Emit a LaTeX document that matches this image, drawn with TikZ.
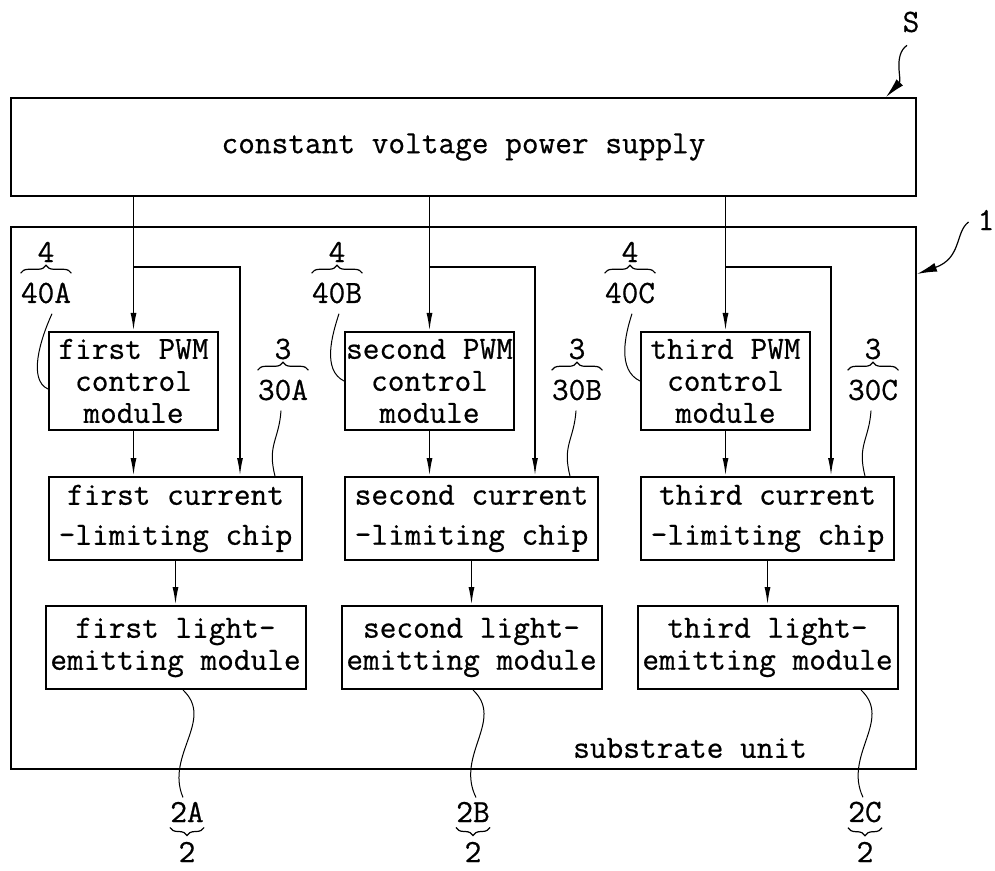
\documentclass[tikz,border=0pt]{standalone}
\usepackage{fontspec}
\setmonofont{Latin Modern Mono}[FakeBold=0.6]
\usetikzlibrary{arrows.meta,decorations.pathreplacing}

\def\unitpx{0.5pt}
% reference numeral with a brace under the upper text (tip up)
\newcommand{\refup}[5]{%
  \node[reftext] (#1) at (#2,#3) {#5};
  \draw[refbrace] ([yshift=9*\unitpx]#1.north west) -- ([yshift=9*\unitpx]#1.north east);
  \node[reftext] (#1top) at ([yshift=41*\unitpx]#1.center) {#4};
}
% reference numeral with a brace under the upper text (tip down)
\newcommand{\refdown}[5]{%
  \node[reftext] (#1) at (#2,#3) {#4};
  \draw[refbrace] ([yshift=-5*\unitpx]#1.south east) -- ([yshift=-5*\unitpx]#1.south west);
  \node[reftext] (#1low) at ([yshift=-40*\unitpx]#1.center) {#5};
}

\begin{document}
\begin{tikzpicture}[
		x=0.5pt, y=-0.5pt,
		font=\ttfamily\fontsize{16.2}{16}\selectfont,
		block/.style={draw, line width=1pt, align=center, inner sep=0pt},
		chipbox/.style={block, font=\ttfamily\fontsize{16.2}{20}\selectfont},
		reftext/.style={inner sep=0pt},
		refbrace/.style={decorate, decoration={brace, amplitude=4pt}, line width=0.6pt},
		flow/.style={-{Latex[length=9pt,width=3pt]}, line width=0.8pt},
		pointer/.style={-{Latex[length=10pt,width=4.5pt]}, line width=0.6pt},
		leader/.style={line width=0.5pt},
	]
	\useasboundingbox (0,0) rectangle (995,871);

	% column x coordinates
	\def\pwmAx{133.5}
	\def\pwmBx{429.5}
	\def\pwmCx{725.5}
	\def\chipAx{175.5}
	\def\chipBx{471.5}
	\def\chipCx{767.5}

	% rows
	\def\pwmy{381}
	\def\chipy{518.5}
	\def\lighty{647.5}
	\def\splity{267}

	% box geometry
	\def\pwmw{169}
	\def\pwmh{98}
	\def\chipw{253}
	\def\chiph{83}
	\def\lightw{260}
	\def\lighth{83}

	% outer boxes
	\node[block, minimum width=905*\unitpx, minimum height=98*\unitpx] (supply) at (463.5,147)
	{constant voltage power supply};
	\node[block, minimum width=905*\unitpx, minimum height=542*\unitpx] (substrate) at (463.5,498) {};
	\node (substrateLabel) at (690,748) {substrate unit};

	% PWM control modules
	\node[block, minimum width=\pwmw*\unitpx, minimum height=\pwmh*\unitpx] (pwmA) at (\pwmAx,\pwmy)
	{first PWM\\control\\module};
	\node[block, minimum width=\pwmw*\unitpx, minimum height=\pwmh*\unitpx] (pwmB) at (\pwmBx,\pwmy)
	{second PWM\\control\\module};
	\node[block, minimum width=\pwmw*\unitpx, minimum height=\pwmh*\unitpx] (pwmC) at (\pwmCx,\pwmy)
	{third PWM\\control\\module};

	% current-limiting chips
	\node[chipbox, minimum width=\chipw*\unitpx, minimum height=\chiph*\unitpx] (chipA) at (\chipAx,\chipy)
	{first current\\-limiting chip};
	\node[chipbox, minimum width=\chipw*\unitpx, minimum height=\chiph*\unitpx] (chipB) at (\chipBx,\chipy)
	{second current\\-limiting chip};
	\node[chipbox, minimum width=\chipw*\unitpx, minimum height=\chiph*\unitpx] (chipC) at (\chipCx,\chipy)
	{third current\\-limiting chip};

	% light-emitting modules
	\node[block, minimum width=\lightw*\unitpx, minimum height=\lighth*\unitpx] (lightA) at (\chipAx,\lighty)
	{first light-\\emitting module};
	\node[block, minimum width=\lightw*\unitpx, minimum height=\lighth*\unitpx] (lightB) at (\chipBx,\lighty)
	{second light-\\emitting module};
	\node[block, minimum width=\lightw*\unitpx, minimum height=\lighth*\unitpx] (lightC) at (\chipCx,\lighty)
	{third light-\\emitting module};

	% split points and chip feed columns
	\coordinate (tapA) at (\pwmAx,\splity);
	\coordinate (tapB) at (\pwmBx,\splity);
	\coordinate (tapC) at (\pwmCx,\splity);
	\coordinate (feedA) at (240,\splity);
	\coordinate (feedB) at (535,\splity);
	\coordinate (feedC) at (831,\splity);

	% supply -> PWM modules
	\draw[flow] (supply.south -| pwmA.north) -- (pwmA.north);
	\draw[flow] (supply.south -| pwmB.north) -- (pwmB.north);
	\draw[flow] (supply.south -| pwmC.north) -- (pwmC.north);

	% supply -> chips
	\draw[flow] (tapA) -- (feedA) -- (chipA.north -| feedA);
	\draw[flow] (tapB) -- (feedB) -- (chipB.north -| feedB);
	\draw[flow] (tapC) -- (feedC) -- (chipC.north -| feedC);

	% PWM -> chips
	\draw[flow] (pwmA.south) -- (pwmA.south |- chipA.north);
	\draw[flow] (pwmB.south) -- (pwmB.south |- chipB.north);
	\draw[flow] (pwmC.south) -- (pwmC.south |- chipC.north);

	% chips -> light-emitting modules
	\draw[flow] (chipA.south) -- (lightA.north);
	\draw[flow] (chipB.south) -- (lightB.north);
	\draw[flow] (chipC.south) -- (lightC.north);

	% reference numerals
	\node (labelS) at (911,22) {S};
	\node (label1) at (986,220) {1};
	\refup{n40A}{46}{293}{4}{40A}
	\refup{n40B}{337}{293}{4}{40B}
	\refup{n40C}{630}{293}{4}{40C}
	\refup{n30A}{283}{390}{3}{30A}
	\refup{n30B}{577}{390}{3}{30B}
	\refup{n30C}{873}{390}{3}{30C}
	\refdown{n2A}{187}{812}{2A}{2}
	\refdown{n2B}{473}{812}{2B}{2}
	\refdown{n2C}{865}{812}{2C}{2}

	% pointer arrows
	\draw[pointer] ([xshift=-2pt,yshift=-3pt]labelS.south) .. controls (893,55) and (902,80)
		.. ([xshift=-31*\unitpx]supply.north east);
	\draw[pointer] ([xshift=-1pt,yshift=-1pt]label1.west) .. controls (955,232) and (962,258)
		.. ([yshift=-48*\unitpx]substrate.north east);

	% leader lines
	\draw[leader] ([xshift=3pt,yshift=-5pt]n40A.south) .. controls (40,340) and (28,380)
		.. ([yshift=-4pt]pwmA.west);
	\draw[leader] ([xshift=1pt,yshift=-5pt]n40B.south) .. controls (332,335) and (322,370) .. (pwmB.west);
	\draw[leader] ([xshift=1pt,yshift=-5pt]n40C.south) .. controls (625,335) and (617,370) .. (pwmC.west);
	\draw[leader] ([xshift=-1pt,yshift=-5pt]n30A.south) .. controls (279,440) and (267,445)
		.. (chipA.north -| 275,0);
	\draw[leader] ([xshift=-0.5pt,yshift=-5pt]n30B.south) .. controls (574,440) and (562,445)
		.. (chipB.north -| 570,0);
	\draw[leader] ([xshift=-1pt,yshift=-5pt]n30C.south) .. controls (869,440) and (857,445)
		.. (chipC.north -| 865,0);
	\draw[leader] (lightA.south -| 183,0) .. controls (215,720) and (165,755)
		.. ([xshift=-2pt,yshift=2pt]n2A.north);
	\draw[leader] (lightB.south -| 473,0) .. controls (505,720) and (455,755)
		.. ([xshift=1.5pt,yshift=2pt]n2B.north);
	\draw[leader] (lightC.south -| 861,0) .. controls (893,720) and (843,755)
		.. ([xshift=-1pt,yshift=2pt]n2C.north);

\end{tikzpicture}
\end{document}
